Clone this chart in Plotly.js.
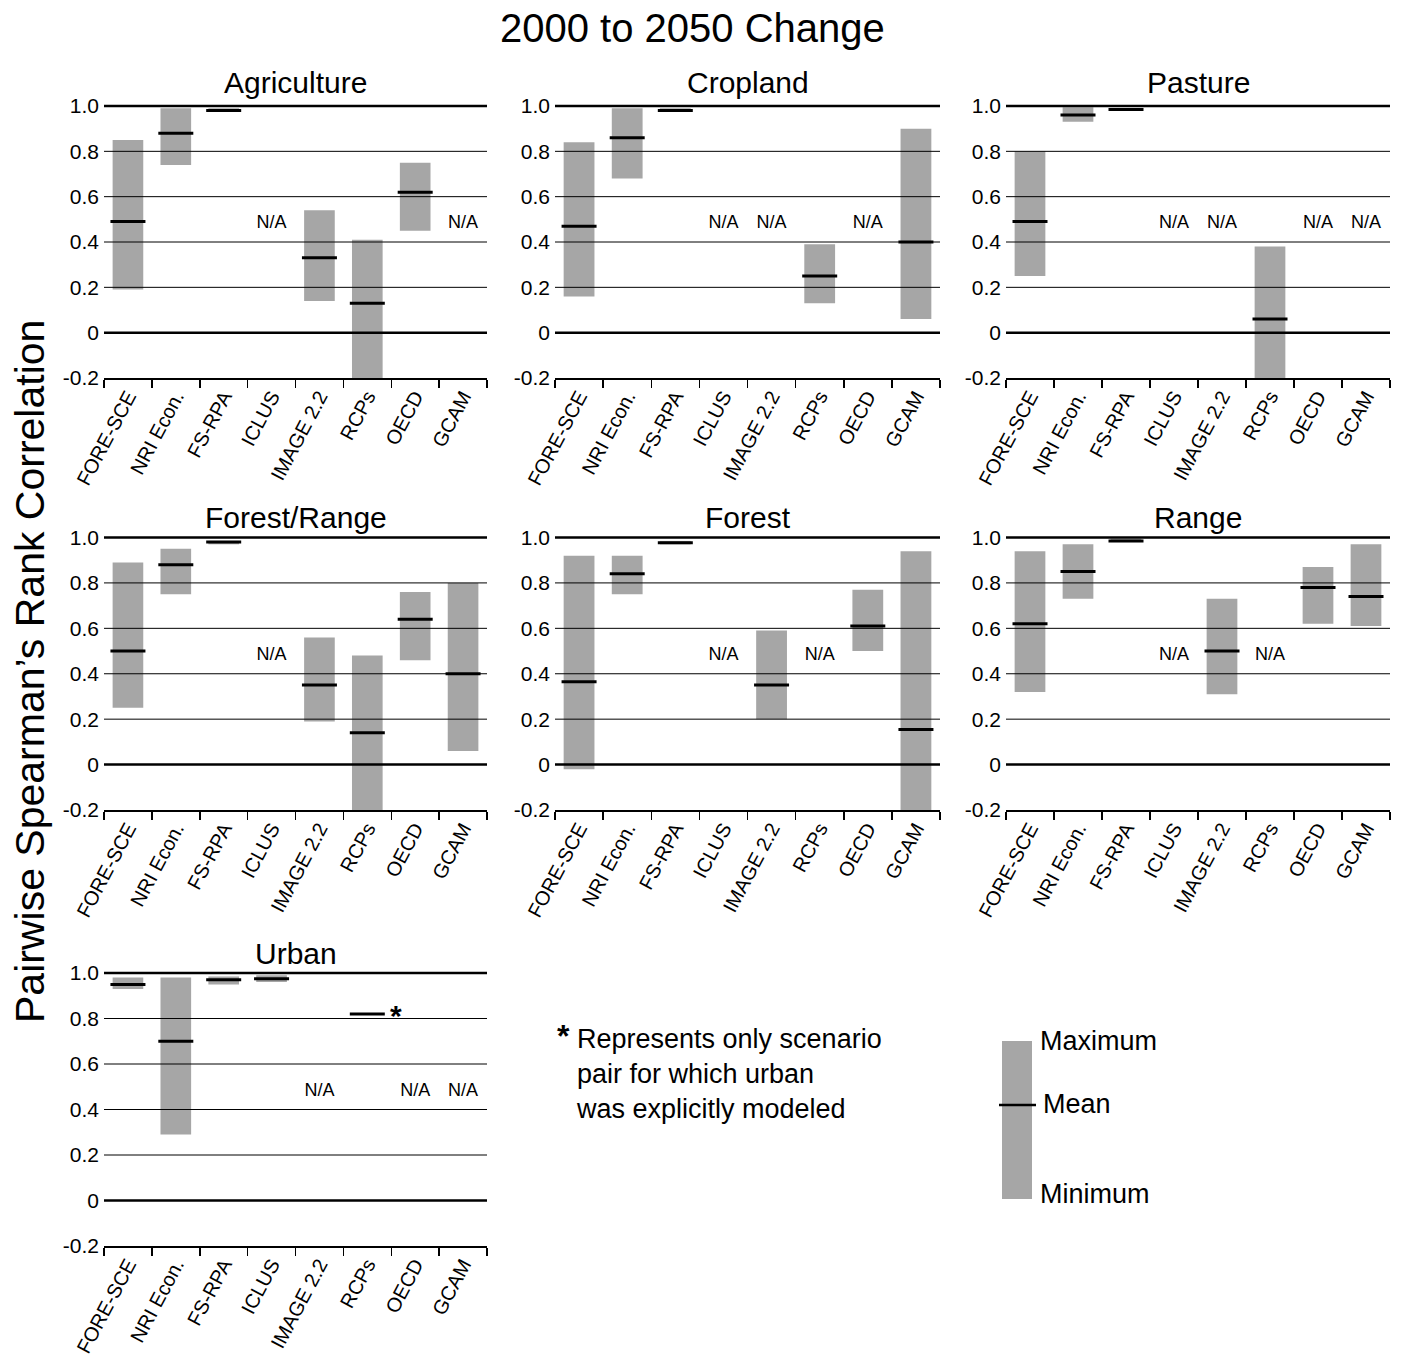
<!DOCTYPE html>
<html><head><meta charset="utf-8">
<script src="https://cdn.plot.ly/plotly-3.0.1.min.js"></script>
<style>body{margin:0;background:#fff}#chart{width:1402px;height:1356px}</style>
</head><body><div id="chart"></div>
<script>
const categories = ["FORE-SCE","NRI Econ.","FS-RPA","ICLUS","IMAGE 2.2","RCPs","OECD","GCAM"];
const panelTitles = ["Agriculture","Cropland","Pasture","Forest/Range","Forest","Range","Urban"];
const yTickVals = [-0.2,0,0.2,0.4,0.6,0.8,1.0];
const yTickText = ["-0.2","0","0.2","0.4","0.6","0.8","1.0"];
const thinGrid = [0.2,0.4,0.6,0.8];
const thickGrid = [0,1.0];

// min / max / mean per category (null = N/A or no range)
const agricultureMin  = [0.19, 0.74, 0.975, null, 0.14, -0.2, 0.45, null];
const agricultureMax  = [0.85, 0.99, 0.99,  null, 0.54, 0.41, 0.75, null];
const agricultureMean = [0.49, 0.88, 0.98,  null, 0.33, 0.13, 0.62, null];

const croplandMin  = [0.16, 0.68, 0.975, null, null, 0.13, null, 0.06];
const croplandMax  = [0.84, 0.99, 0.99,  null, null, 0.39, null, 0.90];
const croplandMean = [0.47, 0.86, 0.98,  null, null, 0.25, null, 0.40];

const pastureMin  = [0.25, 0.93, 0.98,  null, null, -0.2, null, null];
const pastureMax  = [0.80, 0.995,0.99,  null, null, 0.38, null, null];
const pastureMean = [0.49, 0.96, 0.985, null, null, 0.06, null, null];

const forestRangeMin  = [0.25, 0.75, 0.97,  null, 0.19, -0.2, 0.46, 0.06];
const forestRangeMax  = [0.89, 0.95, 0.985, null, 0.56, 0.48, 0.76, 0.80];
const forestRangeMean = [0.50, 0.88, 0.98,  null, 0.35, 0.14, 0.64, 0.40];

const forestMin  = [-0.02, 0.75, 0.97,  null, 0.20, null, 0.50, -0.2];
const forestMax  = [0.92,  0.92, 0.985, null, 0.59, null, 0.77, 0.94];
const forestMean = [0.365, 0.84, 0.977, null, 0.35, null, 0.61, 0.155];

const rangeMin  = [0.32, 0.73, 0.98,  null, 0.31, null, 0.62, 0.61];
const rangeMax  = [0.94, 0.97, 0.995, null, 0.73, null, 0.87, 0.97];
const rangeMean = [0.62, 0.85, 0.985, null, 0.50, null, 0.78, 0.74];

const urbanMin  = [0.93, 0.29, 0.95,  0.96,  null, null, null, null];
const urbanMax  = [0.98, 0.98, 0.985, 0.99,  null, null, null, null];
const urbanMean = [0.95, 0.70, 0.97,  0.975, null, 0.82, null, null];

const panelMins  = [agricultureMin, croplandMin, pastureMin, forestRangeMin, forestMin, rangeMin, urbanMin];
const panelMaxs  = [agricultureMax, croplandMax, pastureMax, forestRangeMax, forestMax, rangeMax, urbanMax];
const panelMeans = [agricultureMean, croplandMean, pastureMean, forestRangeMean, forestMean, rangeMean, urbanMean];

const FONT = "Liberation Sans, Arial, Helvetica, sans-serif";
const W = 1402, H = 1356;
const px = v => v / W;
const py = v => 1 - v / H;

// layout geometry (pixels)
const colX = [[104,487],[555,940],[1006,1390]];
const rowY = [[102.6,378],[534.1,810],[969.6,1246]];
const titleY = [82,517,953];
const naLabelY = 0.48;

const traces = [];
const layout = {
  width: W, height: H,
  margin: {l:0, r:0, t:0, b:0},
  paper_bgcolor: "#fff", plot_bgcolor: "#fff",
  showlegend: false,
  font: {family: FONT, color: "#000"},
  shapes: [], annotations: []
};

panelTitles.forEach((title, i) => {
  const n = i === 0 ? "" : String(i + 1);
  const row = Math.floor(i / 3), col = i % 3;
  const xa = "x" + n, ya = "y" + n;
  const mins = panelMins[i], maxs = panelMaxs[i], means = panelMeans[i];

  traces.push({
    type: "bar", x: categories,
    base: mins,
    y: mins.map((m, k) => (m === null || maxs[k] === null) ? null : maxs[k] - m),
    width: 0.64,
    marker: {color: "#a6a6a6", line: {width: 0}},
    xaxis: xa, yaxis: ya, hoverinfo: "skip"
  });
  traces.push({
    type: "scatter", mode: "markers", x: categories, y: means,
    marker: {symbol: "line-ew", size: 25, color: "#000", line: {width: 3, color: "#000"}},
    xaxis: xa, yaxis: ya, hoverinfo: "skip", cliponaxis: false
  });
  const naCats = categories.filter((c, k) => means[k] === null);
  traces.push({
    type: "scatter", mode: "text", x: naCats, y: naCats.map(() => naLabelY),
    text: naCats.map(() => "N/A"),
    textfont: {family: FONT, size: 18, color: "#000"},
    xaxis: xa, yaxis: ya, hoverinfo: "skip"
  });

  layout["xaxis" + n] = {
    domain: [px(colX[col][0]), px(colX[col][1])],
    anchor: ya, type: "category",
    categoryorder: "array", categoryarray: categories,
    range: [-0.5, 7.5], tickson: "boundaries",
    ticks: "outside", ticklen: 8, tickwidth: 1.5, tickcolor: "#000",
    ticklabelstandoff: -3,
    showline: true, linewidth: 2, linecolor: "#000",
    showgrid: false, zeroline: false,
    tickangle: -62, tickfont: {family: FONT, size: 20, color: "#000"},
    layer: "above traces", fixedrange: true
  };
  layout["yaxis" + n] = {
    domain: [py(rowY[row][1]), py(rowY[row][0])],
    anchor: xa, range: [-0.2, 1.015],
    tickvals: yTickVals, ticktext: yTickText,
    ticks: "", showline: false, showgrid: false, zeroline: false,
    ticklabelstandoff: 4,
    tickfont: {family: FONT, size: 21, color: "#000"},
    fixedrange: true
  };

  thinGrid.forEach(v => layout.shapes.push({
    type: "line", xref: xa + " domain", yref: ya, x0: 0, x1: 1, y0: v, y1: v,
    line: {color: "#000", width: 1}, layer: "above"
  }));
  thickGrid.forEach(v => layout.shapes.push({
    type: "line", xref: xa + " domain", yref: ya, x0: 0, x1: 1, y0: v, y1: v,
    line: {color: "#000", width: 2.5}, layer: "above"
  }));

  layout.annotations.push({
    xref: "paper", yref: "paper",
    x: px((colX[col][0] + colX[col][1]) / 2), y: py(titleY[row]),
    xanchor: "center", yanchor: "middle", showarrow: false,
    text: title, font: {family: FONT, size: 30, color: "#000"}
  });
});

// asterisk next to the Urban RCPs mean
layout.annotations.push({
  xref: "x7", yref: "y7", x: "RCPs", y: urbanMean[5],
  xshift: 29, yshift: -2, showarrow: false, text: "<b>*</b>",
  font: {family: FONT, size: 30, color: "#000"}
});

// main title and y title
layout.annotations.push({
  xref: "paper", yref: "paper", x: px(692), y: py(28),
  xanchor: "center", yanchor: "middle", showarrow: false,
  text: "2000 to 2050 Change", font: {family: FONT, size: 40, color: "#000"}
});
layout.annotations.push({
  xref: "paper", yref: "paper", x: px(30), y: py(672),
  xanchor: "center", yanchor: "middle", showarrow: false, textangle: -90,
  text: "Pairwise Spearman\u2019s Rank Correlation", font: {family: FONT, size: 41, color: "#000"}
});

// footnote
layout.annotations.push({
  xref: "paper", yref: "paper", x: px(555), y: py(1036),
  xanchor: "left", yanchor: "middle", showarrow: false,
  text: "<b>*</b>", font: {family: FONT, size: 32, color: "#000"}
});
layout.annotations.push({
  xref: "paper", yref: "paper", x: px(574), y: py(1074),
  xanchor: "left", yanchor: "middle", align: "left", showarrow: false,
  text: "Represents only scenario<br>pair for which urban<br>was explicitly modeled",
  font: {family: FONT, size: 27, color: "#000"}
});

// key
layout.shapes.push({
  type: "rect", xref: "paper", yref: "paper",
  x0: px(1002), x1: px(1032), y0: py(1199), y1: py(1041),
  fillcolor: "#a6a6a6", line: {width: 0}, layer: "above"
});
layout.shapes.push({
  type: "line", xref: "paper", yref: "paper",
  x0: px(999), x1: px(1036), y0: py(1105), y1: py(1105),
  line: {color: "#000", width: 2.5}, layer: "above"
});
[["Maximum",1038,1041],["Mean",1041,1104],["Minimum",1038,1194]].forEach(([t,x,y]) => {
  layout.annotations.push({
    xref: "paper", yref: "paper", x: px(x), y: py(y),
    xanchor: "left", yanchor: "middle", showarrow: false,
    text: t, font: {family: FONT, size: 27, color: "#000"}
  });
});

Plotly.newPlot("chart", traces, layout, {staticPlot: true, displayModeBar: false});
</script>
</body></html>
